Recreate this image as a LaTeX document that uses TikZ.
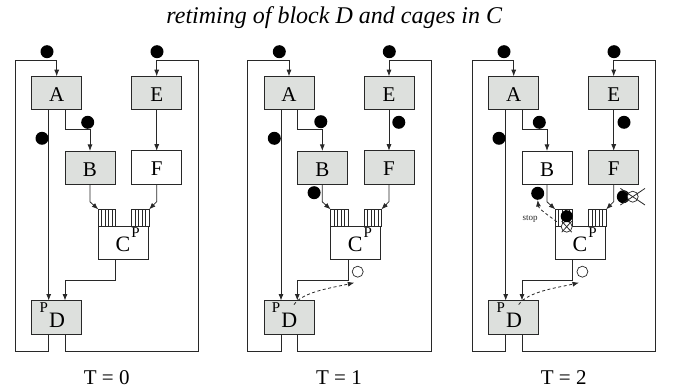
\documentclass[tikz,border=0pt]{standalone}
\usepackage{fontspec}
\setmainfont{Liberation Serif}
\usetikzlibrary{positioning,calc,arrows.meta}
\definecolor{blockFill}{RGB}{221,224,221}
\definecolor{lineInk}{RGB}{40,40,40}
\tikzset{
  blockGray/.style={
    rectangle,
    draw=lineInk,
    fill=blockFill,
    line width=0.8pt,
    minimum width=50pt,
    minimum height=33.5pt,
    inner sep=0pt,
    outer sep=0pt,
    text height=17pt,
    font=\fontsize{21}{21}\selectfont
  },
  blockWhite/.style={
    blockGray,
    fill=white
  },
  cageBox/.style={
    rectangle,
    draw=lineInk,
    fill=white,
    line width=0.8pt,
    minimum width=17.4pt,
    minimum height=16.7pt,
    inner sep=0pt,
    outer sep=0pt
  },
  token/.style={
    circle,
    fill=black,
    minimum size=13pt,
    inner sep=0pt
  },
  emptyToken/.style={
    circle,
    draw=lineInk,
    fill=white,
    line width=0.7pt,
    minimum size=11pt,
    inner sep=0pt
  },
  wireLine/.style={
    draw=lineInk,
    line width=0.8pt
  },
  arrowLine/.style={
    -{Latex[length=6.5pt,width=5pt]},
    wireLine
  },
  dashArrow/.style={
    arrowLine,
    dash pattern=on 3pt off 2.5pt
  },
  bigLetter/.style={font=\fontsize{22}{22}\selectfont, inner sep=0pt},
  supLetter/.style={font=\fontsize{15}{15}\selectfont, inner sep=0pt}
}
\newcommand{\panelBase}[2]{
  \node[blockGray] (A) at (56.7,93) {A};
  \node[blockGray, right=50pt of A] (E) {E};
  \node[#1] (B) at (90,167.7) {B};
  \node[#2, below=41pt of E] (F) {F};
  \node[cageBox] (cl) at (107,217.7) {};
  \node[cageBox, right=16pt of cl] (cr) {};
  \node[blockWhite, anchor=north west, minimum height=33.3pt] (C) at (cl.south west) {};
  \node[blockGray] (D) at (56.7,317.3) {};
  \foreach \k in {1,...,4}{
    \draw[wireLine] ([xshift=\k*3.48pt]cl.north west) -- ([xshift=\k*3.48pt]cl.south west);
    \draw[wireLine] ([xshift=\k*3.48pt]cr.north west) -- ([xshift=\k*3.48pt]cr.south west);
  }
  \node[bigLetter] (Cname) at (123,244) {C};
  \node[supLetter] (Csup) at (135.5,233) {P};
  \node[bigLetter] (Dname) at (57,320) {D};
  \node[supLetter] (Dsup) at (43.7,307.5) {P};
  \coordinate (lb) at (15.3,351);
  \coordinate (lt) at (15.3,60);
  \coordinate (rb) at (198.7,351);
  \coordinate (rt) at (198.7,60);
  \draw[arrowLine] ([xshift=-8pt]D.south) |- (lb) -- (lt) -| (A.north);
  \draw[arrowLine] ([xshift=8.3pt]D.south) |- (rb) -- (rt) -| (E.north);
  \draw[arrowLine] ([xshift=-8pt]A.south) -- ([xshift=-8pt]D.north);
  \draw[arrowLine] ([xshift=8.3pt]A.south) -- ++(0,20) -| (B.north);
  \draw[arrowLine] (E) -- (F);
  \draw[arrowLine] (B.south) -- ++(0,17.4) -- (cl.north west);
  \draw[arrowLine] (F.south) -- ++(0,17.4) -- (cr.north east);
  \draw[arrowLine] ([xshift=-7.6pt]C.south) -- ++(0,20.7) -| ([xshift=8.3pt]D.north);
  \node[token] (tTopL) at (47,51.7) {};
  \node[token] (tTopR) at (157,51.7) {};
  \node[token] (tLeft) at (42,138.3) {};
}

\begin{document}
\begin{tikzpicture}[x=1pt, y=-1pt]
  \useasboundingbox (0,0) rectangle (677,390);
  \node[font=\fontsize{24}{28}\selectfont\itshape, anchor=base] (title) at (334.3,24) {retiming of block D and cages in C};

  \begin{scope}[name prefix=p0-]
    \panelBase{blockGray}{blockWhite}
    \node[token] (tAB) at (87.7,122.3) {};
  \end{scope}

  \begin{scope}[xshift=232.3pt, name prefix=p1-]
    \panelBase{blockGray}{blockGray}
    \node[token] (tAB) at (88.5,121.7) {};
    \node[token] (tEF) at (166.5,122.3) {};
    \node[token] (tBC) at (81.8,192.7) {};
    \node[emptyToken] (o1) at (125.4,271.7) {};
    \draw[dashArrow] ($(D.north)+(5,4)$) .. controls ($(D.north)+(14,-9)$) and ($(o1)+(-25,16)$) .. ($(o1)+(-3.4,11)$);
  \end{scope}

  \begin{scope}[xshift=457pt, name prefix=p2-]
    \panelBase{blockWhite}{blockGray}
    \node[token] (tAB) at (82.3,122.3) {};
    \node[token] (tEF) at (167,122.3) {};
    \node[token] (tStop) at (80.7,193.3) {};
    \node[font=\fontsize{9}{9}\selectfont, text=lineInk] (stop) at (73,219.3) {stop};
    \draw[dashArrow] ($(cl.west)+(1.5,4)$) .. controls +(-8,-6) and +(1,9) .. (tStop.south);
    \node[emptyToken] (xc) at (109.7,226.7) {};
    \draw[wireLine] ($(xc)+(-5,-5.5)$) -- ($(xc)+(5,5.5)$);
    \draw[wireLine] ($(xc)+(-5,5.5)$) -- ($(xc)+(5,-5.5)$);
    \node[token, minimum size=12pt] (tCage) at (109.7,216.2) {};
    \node[token] (tF) at (166.3,196.7) {};
    \node[emptyToken] (xf) at (175.7,196.7) {};
    \draw[wireLine] ($(xf)+(-12.3,-8.3)$) -- ($(xf)+(12.3,8.3)$);
    \draw[wireLine] ($(xf)+(-12.3,8.3)$) -- ($(xf)+(12.3,-8.3)$);
    \node[emptyToken] (o1) at (125.4,271.7) {};
    \draw[dashArrow] ($(D.north)+(5,4)$) .. controls ($(D.north)+(14,-9)$) and ($(o1)+(-25,16)$) .. ($(o1)+(-3.4,11)$);
  \end{scope}

  \node[font=\fontsize{21}{24}\selectfont] (T0) at (106.7,377.8) {T = 0};
  \node[font=\fontsize{21}{24}\selectfont] (T1) at (339,377.8) {T = 1};
  \node[font=\fontsize{21}{24}\selectfont] (T2) at (563.7,377.8) {T = 2};
\end{tikzpicture}
\end{document}
